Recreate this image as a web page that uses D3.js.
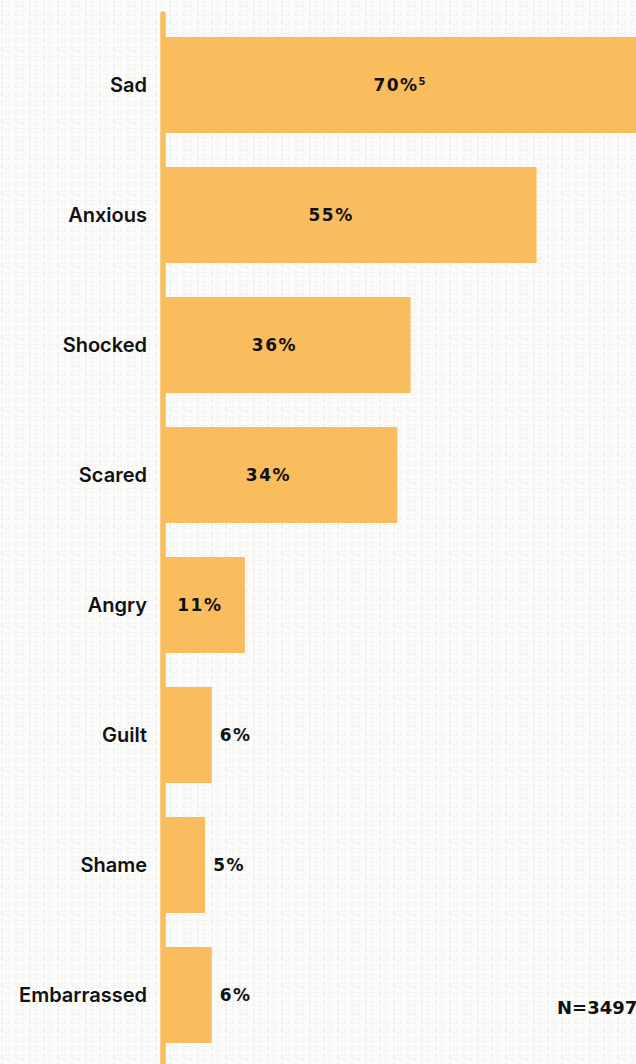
<!DOCTYPE html>
<html>
<head>
<meta charset="utf-8">
<script src="https://cdn.jsdelivr.net/npm/d3@7"></script>
<style>
  html, body { margin: 0; padding: 0; background: #fbfbfa; }
  svg { display: block; }
</style>
</head>
<body>
<svg id="chart" width="636" height="1064"></svg>
<script>
const categories = ["Sad", "Anxious", "Shocked", "Scared", "Angry", "Guilt", "Shame", "Embarrassed"];
const values = [70, 55, 36, 34, 11, 6, 5, 6];
const valueLabels = ["70%", "55%", "36%", "34%", "11%", "6%", "5%", "6%"];
const footnotes = ["5", "", "", "", "", "", "", ""];
const sampleNote = "N=3497";

const W = 636, H = 1064;
const axisX = 163;
const svg = d3.select("#chart");

// subtle paper/grid texture
const defs = svg.append("defs");
const pat = defs.append("pattern").attr("id", "tex")
  .attr("width", 14).attr("height", 9).attr("patternUnits", "userSpaceOnUse");
pat.append("rect").attr("x", 1).attr("y", 1).attr("width", 2).attr("height", 6).attr("fill", "#000").attr("opacity", 0.04);
pat.append("rect").attr("x", 5).attr("y", 2).attr("width", 6).attr("height", 1).attr("fill", "#000").attr("opacity", 0.035);
pat.append("rect").attr("x", 8).attr("y", 4).attr("width", 1.5).attr("height", 4).attr("fill", "#000").attr("opacity", 0.035);
pat.append("rect").attr("x", 4).attr("y", 6).attr("width", 4).attr("height", 1).attr("fill", "#000").attr("opacity", 0.03);
svg.append("rect").attr("width", W).attr("height", H).attr("fill", "#fbfbfa");
svg.append("rect").attr("width", W).attr("height", H).attr("fill", "url(#tex)");

const x = d3.scaleLinear().domain([0, 70]).range([172, 636]);
const y = d3.scaleBand().domain(categories).range([20, 1060])
  .paddingInner(34 / 130).paddingOuter(17 / 130);

const data = categories.map((c, i) => ({ c, v: values[i], label: valueLabels[i], fn: footnotes[i] }));

const barColor = "#f9bd5e";

// bars
svg.append("g").selectAll("rect").data(data).join("rect")
  .attr("x", axisX)
  .attr("y", d => y(d.c))
  .attr("width", d => x(d.v) - axisX)
  .attr("height", y.bandwidth())
  .attr("fill", barColor);

// axis line
svg.append("line")
  .attr("x1", axisX).attr("x2", axisX)
  .attr("y1", 14).attr("y2", H + 10)
  .attr("stroke", barColor).attr("stroke-width", 5.5)
  .attr("stroke-linecap", "round");

// category labels
svg.append("g").selectAll("text").data(data).join("text")
  .attr("x", 147)
  .attr("y", d => y(d.c) + y.bandwidth() / 2 + 7)
  .attr("text-anchor", "end")
  .attr("font-family", "Inter, 'Open Sans', sans-serif")
  .attr("font-weight", 600)
  .attr("font-size", 20)
  .attr("fill", "#111")
  .text(d => d.c);

// value labels
svg.append("g").selectAll("text").data(data).join("text")
  .attr("y", d => y(d.c) + y.bandwidth() / 2 + 6)
  .attr("font-family", "'DejaVu Sans', sans-serif")
  .attr("font-weight", "bold")
  .attr("font-size", 17)
  .attr("letter-spacing", 1.5)
  .attr("fill", "#111")
  .each(function(d) {
    const t = d3.select(this);
    const inside = d.v >= 10;
    if (inside) {
      const k = d.fn ? 0.5 : 0.45;
      t.attr("text-anchor", "middle")
       .attr("x", axisX + (x(d.v) - axisX) * k);
    } else {
      t.attr("text-anchor", "start").attr("x", x(d.v) + 8);
    }
    t.append("tspan").text(d.label);
    if (d.fn) {
      t.append("tspan").attr("font-size", 10).attr("dy", -6).attr("letter-spacing", 0).text(d.fn);
    }
  });

// sample size note (reaches the right edge, as in the original)
svg.append("text")
  .attr("x", 557).attr("y", 1014)
  .attr("font-family", "'DejaVu Sans', sans-serif")
  .attr("font-weight", "bold")
  .attr("font-size", 18)
  .attr("letter-spacing", 0)
  .attr("fill", "#111")
  .text(sampleNote);
</script>
</body>
</html>
